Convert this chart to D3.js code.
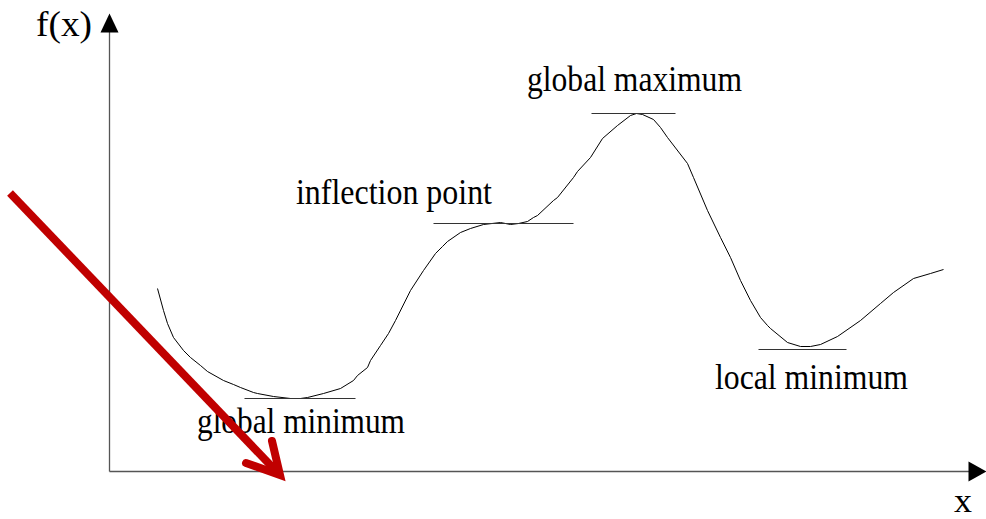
<!DOCTYPE html>
<html>
<head>
<meta charset="utf-8">
<script src="https://cdn.jsdelivr.net/npm/d3@7"></script>
<style>
  body { margin: 0; background: #fff; }
  text { font-family: "Liberation Serif", "Times New Roman", serif; fill: #000; }
</style>
</head>
<body>
<div id="chart"></div>
<script>
// curve (x, f(x) in chart units)
var curveX = [48, 54, 58, 64, 74, 81, 91, 98, 114, 124,
              131, 144, 148, 164, 181, 191, 198, 214, 231, 244,
              248, 258, 261, 271, 279, 286, 301, 314, 326, 333,
              338, 351, 361, 374, 391, 401, 409, 418, 424, 428,
              444, 448, 464, 468, 481, 493, 508, 521, 527, 533,
              544, 551, 558, 578, 584, 598, 611, 621, 631, 641,
              651, 658, 661, 678, 691, 701, 711, 728, 751, 771,
              784, 804, 821, 834];
var curveY = [183, 161, 148, 134, 121, 114, 106, 100, 91, 87,
              84, 79, 78, 75, 73, 73, 74, 78, 83, 91,
              96, 104, 111, 126, 138, 151, 181, 201, 218, 225,
              230, 239, 243, 247, 249, 247, 248, 250, 254, 256,
              271, 274, 294, 300, 314, 333, 346, 356, 358, 357,
              352, 344, 334, 308, 294, 261, 234, 214, 191, 171,
              154, 146, 143, 129, 125, 125, 127, 135, 151, 168,
              179, 193, 198, 202];

// tangent lines at the special points
var tangentNames = ["global minimum", "inflection point", "global maximum", "local minimum"];
var tangentX0 = [135, 324, 482, 649];
var tangentX1 = [246, 464, 566, 737];
var tangentY  = [73.3, 249, 359, 123];

var axisLabels = ["f(x)", "x"];

var width = 986, height = 519;
var svg = d3.select("#chart").append("svg")
    .attr("width", width)
    .attr("height", height);

var x = d3.scaleLinear().domain([0, 877]).range([109.5, 986.5]);
var y = d3.scaleLinear().domain([0, 458]).range([471.5, 13.5]);

// axes
svg.append("line")
    .attr("x1", x(0)).attr("y1", y(0))
    .attr("x2", x(0)).attr("y2", y(440))
    .attr("stroke", "#555").attr("stroke-width", 1.3);
svg.append("line")
    .attr("x1", x(0)).attr("y1", y(0))
    .attr("x2", x(862)).attr("y2", y(0))
    .attr("stroke", "#555").attr("stroke-width", 1.3);
// arrow heads
svg.append("path")
    .attr("d", "M" + x(0) + "," + y(458) + "L" + (x(0) - 9) + "," + (y(458) + 19) +
               "L" + (x(0) + 9) + "," + (y(458) + 19) + "Z")
    .attr("fill", "#000");
svg.append("path")
    .attr("d", "M" + x(877) + "," + y(0) + "L" + (x(877) - 18) + "," + (y(0) - 10) +
               "L" + (x(877) - 18) + "," + (y(0) + 10) + "Z")
    .attr("fill", "#000");

// axis labels
svg.append("text")
    .attr("x", 36).attr("y", 36)
    .attr("font-size", 35)
    .attr("textLength", 56).attr("lengthAdjust", "spacingAndGlyphs")
    .text(axisLabels[0]);
svg.append("text")
    .attr("x", 954).attr("y", 512)
    .attr("font-size", 34)
    .attr("textLength", 18).attr("lengthAdjust", "spacingAndGlyphs")
    .text(axisLabels[1]);

// the function
var pts = curveX.map(function(d, i) { return [d, curveY[i]]; });
var line = d3.line()
    .x(function(d) { return x(d[0]); })
    .y(function(d) { return y(d[1]); })
    .curve(d3.curveLinear);
svg.append("path")
    .datum(pts)
    .attr("d", line)
    .attr("fill", "none")
    .attr("stroke", "#000")
    .attr("stroke-width", 1);

// tangents
svg.selectAll(".tangent")
    .data(tangentNames)
    .enter().append("line")
    .attr("class", "tangent")
    .attr("x1", function(d, i) { return x(tangentX0[i]); })
    .attr("x2", function(d, i) { return x(tangentX1[i]); })
    .attr("y1", function(d, i) { return Math.round(y(tangentY[i])) + 0.5; })
    .attr("y2", function(d, i) { return Math.round(y(tangentY[i])) + 0.5; })
    .attr("stroke", "#333")
    .attr("stroke-width", 1.2);

// label placement (left, baseline, width in px)
var labelPos = [[197, 433, 208], [296, 204, 196], [527, 91, 215], [715, 389, 193]];
svg.selectAll(".lbl")
    .data(tangentNames)
    .enter().append("text")
    .attr("class", "lbl")
    .attr("x", function(d, i) { return labelPos[i][0]; })
    .attr("y", function(d, i) { return labelPos[i][1]; })
    .attr("font-size", 35)
    .attr("textLength", function(d, i) { return labelPos[i][2]; })
    .attr("lengthAdjust", "spacingAndGlyphs")
    .text(function(d) { return d; });

// red arrow drawn over the figure
var red = "#c00000";
svg.append("line")
    .attr("x1", 10).attr("y1", 193)
    .attr("x2", 276).attr("y2", 471)
    .attr("stroke", red).attr("stroke-width", 8);
svg.append("path")
    .attr("d", "M246,463L280,475L272,441")
    .attr("fill", "none")
    .attr("stroke", red).attr("stroke-width", 8)
    .attr("stroke-linecap", "round")
    .attr("stroke-linejoin", "miter");
</script>
</body>
</html>
